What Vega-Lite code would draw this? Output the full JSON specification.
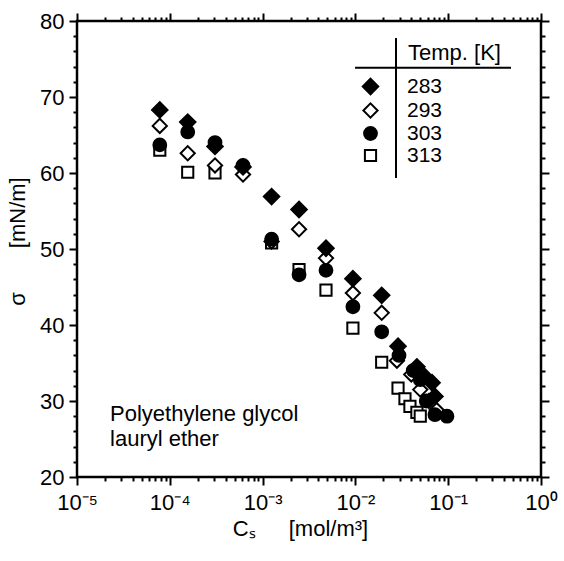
{
  "$schema": "https://vega.github.io/schema/vega-lite/v6.json",
  "width": 464,
  "height": 456,
  "autosize": {"type": "none"},
  "padding": {"left": 77, "top": 21, "right": 23, "bottom": 84},
  "config": {
    "font": "Liberation Sans",
    "view": {"stroke": "black", "strokeWidth": 2.5},
    "axis": {
      "domain": false,
      "grid": false,
      "ticks": true,
      "tickColor": "black",
      "tickWidth": 2,
      "labelColor": "black",
      "labelFont": "Liberation Sans",
      "labelFontSize": 22,
      "titleFont": "Liberation Sans",
      "titleFontSize": 22,
      "titleFontWeight": "normal",
      "titleColor": "black"
    }
  },
  "data": {
    "values": [
      {"c": 0.000078, "sigma": 63.0, "temp": "313"},
      {"c": 0.000156, "sigma": 60.1, "temp": "313"},
      {"c": 0.000307, "sigma": 60.0, "temp": "313"},
      {"c": 0.00125, "sigma": 50.8, "temp": "313"},
      {"c": 0.00247, "sigma": 47.3, "temp": "313"},
      {"c": 0.00482, "sigma": 44.6, "temp": "313"},
      {"c": 0.0094, "sigma": 39.6, "temp": "313"},
      {"c": 0.0192, "sigma": 35.1, "temp": "313"},
      {"c": 0.0288, "sigma": 31.7, "temp": "313"},
      {"c": 0.0342, "sigma": 30.3, "temp": "313"},
      {"c": 0.0387, "sigma": 29.3, "temp": "313"},
      {"c": 0.046, "sigma": 28.5, "temp": "313"},
      {"c": 0.05, "sigma": 28.0, "temp": "313"},
      {"c": 0.000078, "sigma": 66.2, "temp": "293"},
      {"c": 0.000156, "sigma": 62.6, "temp": "293"},
      {"c": 0.000307, "sigma": 61.0, "temp": "293"},
      {"c": 0.000615, "sigma": 59.8, "temp": "293"},
      {"c": 0.00125, "sigma": 51.0, "temp": "293"},
      {"c": 0.00247, "sigma": 52.6, "temp": "293"},
      {"c": 0.00482, "sigma": 48.8, "temp": "293"},
      {"c": 0.0094, "sigma": 44.2, "temp": "293"},
      {"c": 0.0192, "sigma": 41.6, "temp": "293"},
      {"c": 0.028, "sigma": 35.3, "temp": "293"},
      {"c": 0.04, "sigma": 33.5, "temp": "293"},
      {"c": 0.05, "sigma": 31.5, "temp": "293"},
      {"c": 0.062, "sigma": 30.0, "temp": "293"},
      {"c": 0.075, "sigma": 28.8, "temp": "293"},
      {"c": 0.000078, "sigma": 68.3, "temp": "283"},
      {"c": 0.000156, "sigma": 66.7, "temp": "283"},
      {"c": 0.000307, "sigma": 63.5, "temp": "283"},
      {"c": 0.000615, "sigma": 60.8, "temp": "283"},
      {"c": 0.00125, "sigma": 56.9, "temp": "283"},
      {"c": 0.00247, "sigma": 55.2, "temp": "283"},
      {"c": 0.00482, "sigma": 50.1, "temp": "283"},
      {"c": 0.0094, "sigma": 46.1, "temp": "283"},
      {"c": 0.0192, "sigma": 43.9, "temp": "283"},
      {"c": 0.0288, "sigma": 37.2, "temp": "283"},
      {"c": 0.046, "sigma": 34.5, "temp": "283"},
      {"c": 0.056, "sigma": 33.2, "temp": "283"},
      {"c": 0.067, "sigma": 32.4, "temp": "283"},
      {"c": 0.072, "sigma": 30.6, "temp": "283"},
      {"c": 0.000078, "sigma": 63.7, "temp": "303"},
      {"c": 0.000156, "sigma": 65.4, "temp": "303"},
      {"c": 0.000307, "sigma": 64.0, "temp": "303"},
      {"c": 0.000615, "sigma": 61.0, "temp": "303"},
      {"c": 0.00125, "sigma": 51.3, "temp": "303"},
      {"c": 0.00247, "sigma": 46.6, "temp": "303"},
      {"c": 0.00482, "sigma": 47.2, "temp": "303"},
      {"c": 0.0094, "sigma": 42.4, "temp": "303"},
      {"c": 0.0192, "sigma": 39.1, "temp": "303"},
      {"c": 0.0295, "sigma": 36.0, "temp": "303"},
      {"c": 0.042, "sigma": 34.0, "temp": "303"},
      {"c": 0.05, "sigma": 32.8, "temp": "303"},
      {"c": 0.058, "sigma": 30.0, "temp": "303"},
      {"c": 0.072, "sigma": 28.2, "temp": "303"},
      {"c": 0.097, "sigma": 28.0, "temp": "303"}
    ]
  },
  "layer": [
    {
      "mark": {"type": "point", "opacity": 0},
      "encoding": {
        "x": {
          "field": "c", "type": "quantitative",
          "scale": {"type": "log", "domain": [0.00001, 1]},
          "axis": {"orient": "top", "tickSize": 8, "labels": false, "title": null,
            "values": [0.00001, 0.0001, 0.001, 0.01, 0.1, 1]}
        },
        "y": {
          "field": "sigma", "type": "quantitative",
          "scale": {"domain": [20, 80], "nice": false, "zero": false},
          "axis": {"orient": "right", "tickSize": 8, "labels": false, "title": null,
            "values": [20, 30, 40, 50, 60, 70, 80]}
        }
      }
    },
    {
      "mark": {"type": "point", "opacity": 0},
      "encoding": {
        "x": {
          "field": "c", "type": "quantitative",
          "scale": {"type": "log", "domain": [0.00001, 1]},
          "axis": {"orient": "top", "tickSize": 4, "labels": false, "title": null,
            "values": [0.00002,0.00003,0.00004,0.00005,0.00006,0.00007,0.00008,0.00009,0.0002,0.0003,0.0004,0.0005,0.0006,0.0007,0.0008,0.0009,0.002,0.003,0.004,0.005,0.006,0.007,0.008,0.009,0.02,0.03,0.04,0.05,0.06,0.07,0.08,0.09,0.2,0.3,0.4,0.5,0.6,0.7,0.8,0.9]}
        },
        "y": {
          "field": "sigma", "type": "quantitative",
          "scale": {"domain": [20, 80], "nice": false, "zero": false},
          "axis": {"orient": "right", "tickSize": 4, "labels": false, "title": null,
            "values": [22,24,26,28,32,34,36,38,42,44,46,48,52,54,56,58,62,64,66,68,72,74,76,78]}
        }
      }
    },
    {
      "mark": {"type": "point", "opacity": 0},
      "encoding": {
        "x": {
          "field": "c", "type": "quantitative",
          "scale": {"type": "log", "domain": [0.00001, 1]},
          "axis": {"orient": "bottom", "tickSize": 4, "labels": false, "title": null,
            "values": [0.00002,0.00003,0.00004,0.00005,0.00006,0.00007,0.00008,0.00009,0.0002,0.0003,0.0004,0.0005,0.0006,0.0007,0.0008,0.0009,0.002,0.003,0.004,0.005,0.006,0.007,0.008,0.009,0.02,0.03,0.04,0.05,0.06,0.07,0.08,0.09,0.2,0.3,0.4,0.5,0.6,0.7,0.8,0.9]}
        },
        "y": {
          "field": "sigma", "type": "quantitative",
          "scale": {"domain": [20, 80], "nice": false, "zero": false},
          "axis": {"orient": "left", "tickSize": 4, "labels": false, "title": null,
            "values": [22,24,26,28,32,34,36,38,42,44,46,48,52,54,56,58,62,64,66,68,72,74,76,78]}
        }
      }
    },
    {
      "mark": {"type": "point", "filled": true, "strokeWidth": 2, "opacity": 1},
      "encoding": {
        "x": {
          "field": "c", "type": "quantitative",
          "scale": {"type": "log", "domain": [0.00001, 1]},
          "axis": {
            "orient": "bottom",
            "tickSize": 8,
            "values": [0.00001, 0.0001, 0.001, 0.01, 0.1, 1],
            "labelExpr": "['10⁻⁵','10⁻⁴','10⁻³','10⁻²','10⁻¹','10⁰'][round(log(datum.value)/LN10)+5]",
            "labelOverlap": false,
            "labelFlush": false,
            "labelBound": false,
            "labelPadding": 7,
            "title": "Cₛ\u2003\u2002[mol/m³]",
            "titleX": 223,
            "titleY": 51,
            "titleBaseline": "middle",
            "titleAlign": "center"
          }
        },
        "y": {
          "field": "sigma", "type": "quantitative",
          "scale": {"domain": [20, 80], "nice": false, "zero": false},
          "axis": {
            "orient": "left",
            "tickSize": 8,
            "values": [20, 30, 40, 50, 60, 70, 80],
            "labelOverlap": false,
            "labelFlush": false,
            "labelBound": false,
            "labelPadding": 5,
            "title": "σ\u2003\u2003[mN/m]",
            "titleX": -60,
            "titleY": 220,
            "titleAngle": 270,
            "titleBaseline": "middle",
            "titleAlign": "center"
          }
        },
        "shape": {
          "field": "temp", "type": "nominal",
          "scale": {"domain": ["283", "293", "303", "313"], "range": ["diamond", "diamond", "circle", "square"]},
          "legend": {"title": null, "orient": "none", "legendX": 283, "legendY": 55, "labelFontSize": 21, "labelColor": "black", "labelOffset": 26, "rowPadding": 0, "symbolStrokeWidth": 2}
        },
        "fill": {
          "field": "temp", "type": "nominal",
          "scale": {"domain": ["283", "293", "303", "313"], "range": ["black", "white", "black", "white"]},
          "legend": {"title": null, "orient": "none", "legendX": 283, "legendY": 55, "labelFontSize": 21, "labelColor": "black", "labelOffset": 26, "rowPadding": 0, "symbolStrokeWidth": 2}
        },
        "stroke": {
          "field": "temp", "type": "nominal",
          "scale": {"domain": ["283", "293", "303", "313"], "range": ["black", "black", "black", "black"]},
          "legend": {"title": null, "orient": "none", "legendX": 283, "legendY": 55, "labelFontSize": 21, "labelColor": "black", "labelOffset": 26, "rowPadding": 0, "symbolStrokeWidth": 2}
        },
        "size": {
          "field": "temp", "type": "nominal",
          "scale": {"domain": ["283", "293", "303", "313"], "range": [240, 125, 165, 190]},
          "legend": {"title": null, "orient": "none", "legendX": 283, "legendY": 55, "labelFontSize": 21, "labelColor": "black", "labelOffset": 26, "rowPadding": 0, "symbolStrokeWidth": 2}
        }
      }
    },
    {
      "data": {"values": [{}]},
      "mark": {"type": "rule", "color": "black", "strokeWidth": 2},
      "encoding": {
        "x": {"datum": 0.00991, "type": "quantitative", "scale": {"type": "log", "domain": [0.00001, 1]}, "axis": null},
        "x2": {"datum": 0.475},
        "y": {"datum": 73.86, "type": "quantitative", "axis": null}
      }
    },
    {
      "data": {"values": [{}]},
      "mark": {"type": "rule", "color": "black", "strokeWidth": 2},
      "encoding": {
        "x": {"datum": 0.0274, "type": "quantitative", "scale": {"type": "log", "domain": [0.00001, 1]}, "axis": null},
        "y": {"datum": 77.76, "type": "quantitative", "axis": null},
        "y2": {"datum": 59.34}
      }
    },
    {
      "data": {"values": [{}]},
      "mark": {"type": "text", "align": "left", "baseline": "middle", "fontSize": 22, "font": "Liberation Sans", "color": "black"},
      "encoding": {
        "x": {"datum": 0.0369, "type": "quantitative", "scale": {"type": "log", "domain": [0.00001, 1]}, "axis": null},
        "y": {"datum": 75.8, "type": "quantitative", "axis": null},
        "text": {"value": "Temp. [K]"}
      }
    },
    {
      "data": {"values": [{}]},
      "mark": {"type": "text", "align": "left", "baseline": "top", "fontSize": 22, "lineHeight": 25, "font": "Liberation Sans", "color": "black"},
      "encoding": {
        "x": {"datum": 0.0000227, "type": "quantitative", "scale": {"type": "log", "domain": [0.00001, 1]}, "axis": null},
        "y": {"datum": 29.6, "type": "quantitative", "axis": null},
        "text": {"value": ["Polyethylene glycol", "lauryl ether"]}
      }
    }
  ],
  "resolve": {"axis": {"x": "independent", "y": "independent"}}
}
